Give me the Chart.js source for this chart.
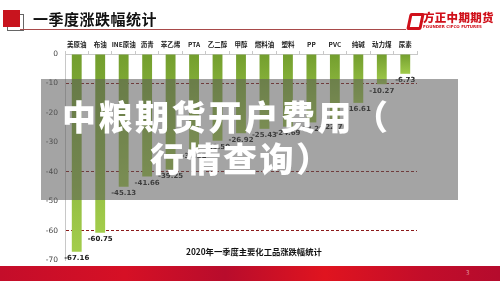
<!DOCTYPE html>
<html>
<head>
<meta charset="utf-8">
<script src="https://cdn.jsdelivr.net/npm/chart.js@4"></script>
<style>
  html, body { margin: 0; padding: 0; background: #fff; }
  body { width: 500px; height: 281px; position: relative; overflow: hidden; font-family: "Noto Sans CJK SC", sans-serif; }
  #chart { position: absolute; left: 0; top: 0; }
  .icon { position: absolute; left: 3px; top: 10px; width: 17px; height: 17px; background: #c8141e; }
  .icon-edge { position: absolute; left: 7px; top: 14px; width: 17px; height: 17px; border: 1px solid #666; box-sizing: border-box; }
  .head-title { position: absolute; left: 33px; top: 8px; font-size: 15px; font-weight: 700; color: #111; letter-spacing: 0.5px; }
  .head-line { position: absolute; left: 20px; top: 29px; width: 386px; height: 1px; background: #a84a4a; }
  .logo-mark { position: absolute; left: 408px; top: 13px; width: 9px; height: 11px; border: 3px solid #d0101a; border-radius: 2px; transform: skewX(-12deg); }
  .logo-text { position: absolute; left: 423px; top: 9px; font-size: 11.5px; font-weight: 900; color: #d0101a; letter-spacing: 0.3px; }
  .logo-sub { position: absolute; left: 423px; top: 24px; font-size: 4px; font-weight: 700; color: #d0101a; font-family: "DejaVu Sans", sans-serif; white-space: nowrap; }
  .caption { position: absolute; left: 186px; top: 245px; font-size: 8.3px; font-weight: 700; color: #111; white-space: nowrap; }
  .footer { position: absolute; left: 0; top: 266px; width: 500px; height: 15px;
    background: linear-gradient(90deg, #c40d2a 0%, #d61025 25%, #b80c2c 45%, #e0141f 65%, #c20d2a 85%, #b50b2d 100%); }
  .page { position: absolute; left: 466px; top: 268px; font-size: 6px; color: #e8a0a0; }
  .veil { position: absolute; left: 41px; top: 79px; width: 417px; height: 121px; background: rgba(90, 90, 90, 0.55); }
  .veil-text { position: absolute; color: #fff; font-weight: 900; font-size: 34px; white-space: nowrap; letter-spacing: 2.5px; line-height: 1; }
</style>
</head>
<body>
<canvas id="chart" width="500" height="281"></canvas>

<div class="icon-edge"></div>
<div class="icon"></div>
<div class="head-title">一季度涨跌幅统计</div>
<div class="head-line"></div>
<div class="logo-mark"></div>
<div class="logo-text">方正中期期货</div>
<div class="logo-sub">FOUNDER CIFCO FUTURES</div>
<div class="caption">2020年一季度主要化工品涨跌幅统计</div>
<div class="footer"></div>
<div class="page">3</div>

<div class="veil"></div>
<div class="veil-text" style="left:62px; top:99px;">中粮期货开户费用（</div>
<div class="veil-text" style="left:150px; top:141px;">行情查询）</div>

<script>
const categories = ["美原油", "布油", "INE原油", "沥青", "苯乙烯", "PTA", "乙二醇", "甲醇",
  "燃料油", "塑料", "PP", "PVC", "纯碱", "动力煤", "尿素"];
const changes = [-67.16, -60.75, -45.13, -41.66, -39.25, -32.52, -29.5, -26.92,
  -25.43, -24.69, -23.25, -22.76, -16.61, -10.27, -6.73];
const yTicks = [0, -10, -20, -30, -40, -50, -60, -70];
const dashedLines = [-10, -40, -60];

// Bar gradient, lighter toward the bar end
function barFill(ctx) {
  const chart = ctx.chart;
  const y = chart.scales && chart.scales.y;
  if (!y || ctx.raw === undefined) return "#86b03c";
  const y0 = y.getPixelForValue(0);
  const y1 = y.getPixelForValue(ctx.raw);
  if (!isFinite(y0) || !isFinite(y1)) return "#86b03c";
  const g = chart.ctx.createLinearGradient(0, y0, 0, y1 + 1);
  g.addColorStop(0, "#739e2e");
  g.addColorStop(1, "#a3cd4c");
  return g;
}

// Value labels under each bar
const valueLabels = {
  id: "valueLabels",
  afterDatasetsDraw(chart) {
    const c = chart.ctx;
    const meta = chart.getDatasetMeta(0);
    c.save();
    c.font = "bold 7px 'DejaVu Sans', sans-serif";
    c.fillStyle = "#1a1a1a";
    c.textAlign = "center";
    c.textBaseline = "top";
    meta.data.forEach((bar, i) => {
      c.fillText(changes[i].toFixed(2), bar.x, bar.y + 3);
    });
    c.restore();
  }
};

new Chart(document.getElementById("chart"), {
  type: "bar",
  data: {
    labels: categories,
    datasets: [
      {
        data: changes,
        backgroundColor: barFill,
        barPercentage: 0.42,
        categoryPercentage: 1
      }
    ]
  },
  options: {
    responsive: false,
    animation: false,
    layout: { padding: { left: 0, top: 0, right: 83, bottom: 21 } },
    plugins: {
      legend: { display: false },
      tooltip: { enabled: false }
    },
    scales: {
      x: {
        position: "top",
        afterFit: (s) => { s.height = 54; },
        ticks: {
          color: "#222",
          padding: 3,
          maxRotation: 0,
          autoSkip: false,
          font: { size: 6.5, weight: "bold", family: "'Noto Sans CJK SC', sans-serif" }
        },
        grid: {
          drawOnChartArea: false,
          drawTicks: true,
          tickLength: 3,
          color: "#c8c8c8"
        },
        border: { color: "#c8c8c8" }
      },
      y: {
        min: -70,
        max: 0,
        afterFit: (s) => { s.width = 65; },
        afterBuildTicks: (s) => { s.ticks = yTicks.map((v) => ({ value: v })); },
        ticks: {
          color: "#444",
          padding: 7,
          font: { size: 7.5, family: "'DejaVu Sans', sans-serif" }
        },
        grid: {
          drawTicks: false,
          color: (ctx) => dashedLines.includes(ctx.tick && ctx.tick.value) ? "#8b1a1a" : "rgba(0,0,0,0)",
          lineWidth: 1
        },
        border: { color: "#c8c8c8", dash: [3, 2] }
      }
    }
  },
  plugins: [valueLabels]
});
</script>
</body>
</html>
